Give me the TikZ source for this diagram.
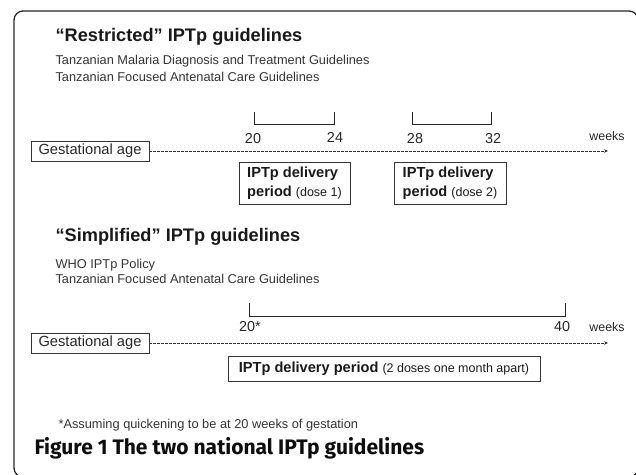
\documentclass[tikz,border=0pt]{standalone}
\usepackage{fontspec}
\setmainfont{Liberation Sans}
\newfontfamily\capfont{Fira Sans}
\usetikzlibrary{positioning,arrows.meta}

\begin{document}
\begin{tikzpicture}[x=1pt,y=-1pt,
  agebox/.style={draw=black!80,line width=0.9pt,minimum width=118pt,minimum height=20pt,inner sep=0pt,font=\fontsize{14.7}{16}\selectfont,text=black!85},
  periodbox/.style={draw=black!80,line width=0.9pt,inner xsep=8pt,inner ysep=0pt,align=left,text=black!90,font=\fontsize{14.6}{19}\selectfont\bfseries},
  timeline/.style={black!80,line width=0.7pt,dash pattern=on 2.5pt off 1.5pt,-{Stealth[length=4pt,width=3.5pt]}},
  bracket/.style={black!85,line width=0.9pt},
  tick/.style={font=\fontsize{14.4}{16}\selectfont,text=black!85},
  unit/.style={font=\fontsize{12.4}{14}\selectfont,text=black!85},
  heading/.style={anchor=base west,font=\bfseries\fontsize{18.2}{20}\selectfont,text=black!90},
  source/.style={anchor=base west,font=\fontsize{12.8}{16}\selectfont,text=black!80}]

\useasboundingbox (0,0) rectangle (636,474);
\draw[black!85,line width=1.3pt,rounded corners=9pt] (14,11) rectangle (638,477);

\node[heading] (headA) at (52,41) {“Restricted” IPTp guidelines};
\node[source] (srcA1) at (52,64) {Tanzanian Malaria Diagnosis and Treatment Guidelines};
\node[source] (srcA2) at (52,81) {Tanzanian Focused Antenatal Care Guidelines};

\node[agebox] (ageA) at (90,151) {Gestational age};
\coordinate (endA) at (608,151);
\draw[timeline] (ageA) -- (endA);

\coordinate (brA1) at (254,112);
\coordinate (brA2) at (334,112);
\coordinate (brA3) at (412,112);
\coordinate (brA4) at (491,112);
\draw[bracket] (brA1) -- ++(0,12) -| (brA2);
\draw[bracket] (brA3) -- ++(0,12) -| (brA4);

\node[tick] (wkA20) at (253,139) {20};
\node[tick] (wkA24) at (335,137) {24};
\node[tick] (wkA28) at (415,139) {28};
\node[tick] (wkA32) at (493,139) {32};
\node[unit] (unitA) at (607,136) {weeks};

\node[periodbox,minimum width=111pt,minimum height=42pt] (doseA1) at (294.5,183)
  {IPTp delivery\\period {\mdseries\fontsize{12.5}{19}\selectfont (dose 1)}};
\node[periodbox,minimum width=112pt,minimum height=42pt] (doseA2) at (450,183)
  {IPTp delivery\\period {\mdseries\fontsize{12.5}{19}\selectfont (dose 2)}};

\node[heading] (headB) at (52,241) {“Simplified” IPTp guidelines};
\node[source] (srcB1) at (52,268) {WHO IPTp Policy};
\node[source] (srcB2) at (52,283) {Tanzanian Focused Antenatal Care Guidelines};

\node[agebox] (ageB) at (90,343) {Gestational age};
\coordinate (endB) at (608,343);
\draw[timeline] (ageB) -- (endB);

\coordinate (brB1) at (249,303);
\coordinate (brB2) at (565,303);
\draw[bracket] (brB1) -- ++(0,13) -| (brB2);

\node[tick] (wkB20) at (250,327) {20*};
\node[tick] (wkB40) at (562,327) {40};
\node[unit] (unitB) at (607,327) {weeks};

\node[periodbox,minimum width=312pt,minimum height=25pt] (doseB) at (384,368.5)
  {IPTp delivery period {\mdseries\fontsize{12.5}{19}\selectfont (2 doses one month apart)}};

\node[source] (note) at (55,428) {*Assuming quickening to be at 20 weeks of gestation};
\node[anchor=base west,font=\capfont\bfseries\fontsize{21}{24}\selectfont,text=black!95] (caption) at (31,454) {Figure 1 The two national IPTp guidelines};

\end{tikzpicture}
\end{document}
